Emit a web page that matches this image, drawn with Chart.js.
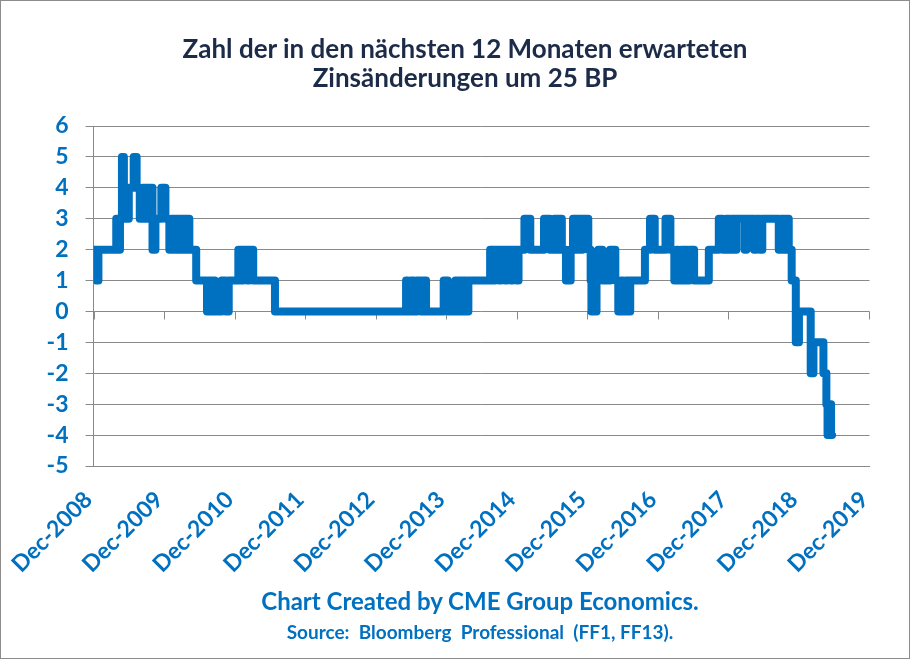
<!DOCTYPE html>
<html>
<head>
<meta charset="utf-8">
<script src="https://cdn.jsdelivr.net/npm/chart.js@4.4.0/dist/chart.umd.min.js"></script>
<style>
  body { margin: 0; background: #fff; }
  #frame {
    position: relative;
    width: 908px;
    height: 657px;
    border: 1px solid #8c8c8c;
    background: #fff;
    font-family: "Lato", sans-serif;
  }
  #frame canvas { position: absolute; left: 0; top: 0; }
  .txt {
    position: absolute;
    left: 0;
    text-align: center;
    font-weight: 700;
    white-space: pre;
  }
  #title {
    top: 33px;
    width: 928px;
    font-size: 26px;
    line-height: 29px;
    color: #1c2b48;
  }
  .note { width: 958px; color: #0070c0; }
  #note1 { top: 585px; font-size: 24px; }
  #note2 { top: 619px; font-size: 19px; }
</style>
</head>
<body>
<div id="frame">
  <canvas id="myChart" width="908" height="657"></canvas>
  <div class="txt" id="title">Zahl der in den nächsten 12 Monaten erwarteten
Zinsänderungen um 25 BP</div>
  <div class="txt note" id="note1">Chart Created by CME Group Economics.</div>
  <div class="txt note" id="note2">Source:  Bloomberg  Professional  (FF1, FF13).</div>
</div>
<script>
// dates where the expected number of 25bp moves changed, and the new level
const changeDates = [
  "2008-12-01", "2008-12-16", "2008-12-26", "2009-03-27", "2009-04-06",
  "2009-04-16", "2009-04-26", "2009-05-06", "2009-05-11", "2009-05-21",
  "2009-06-01", "2009-06-26", "2009-07-11", "2009-07-27", "2009-08-12",
  "2009-08-27", "2009-09-07", "2009-10-02", "2009-10-17", "2009-11-17",
  "2009-12-08", "2009-12-28", "2010-01-08", "2010-01-23", "2010-02-03",
  "2010-02-18", "2010-02-28", "2010-03-15", "2010-03-25", "2010-04-10",
  "2010-05-15", "2010-07-10", "2010-07-20", "2010-07-30", "2010-08-10",
  "2010-08-20", "2010-09-25", "2010-10-15", "2010-11-01", "2010-12-20",
  "2011-01-06", "2011-01-15", "2011-02-06", "2011-02-15", "2011-03-06",
  "2011-06-27", "2013-05-06", "2013-05-15", "2013-06-01", "2013-06-16",
  "2013-07-01", "2013-07-21", "2013-08-01", "2013-08-18", "2013-11-18",
  "2013-12-09", "2014-01-18", "2014-01-28", "2014-02-09", "2014-02-24",
  "2014-03-03", "2014-03-12", "2014-03-24", "2014-07-15", "2014-08-01",
  "2014-08-10", "2014-09-01", "2014-09-10", "2014-10-01", "2014-10-10",
  "2014-11-01", "2014-11-10", "2014-12-01", "2014-12-10", "2015-01-10",
  "2015-02-10", "2015-04-20", "2015-05-20", "2015-06-12", "2015-06-27",
  "2015-07-06", "2015-07-21", "2015-08-12", "2015-09-06", "2015-09-18",
  "2015-10-03", "2015-10-12", "2015-10-27", "2015-11-06", "2015-12-06",
  "2015-12-18", "2015-12-22", "2016-01-18", "2016-01-27", "2016-02-18",
  "2016-03-27", "2016-04-24", "2016-05-09", "2016-05-24", "2016-06-03",
  "2016-06-18", "2016-07-01", "2016-07-10", "2016-09-25", "2016-10-21",
  "2016-11-15", "2017-01-10", "2017-02-05", "2017-02-25", "2017-03-06",
  "2017-03-15", "2017-04-01", "2017-04-12", "2017-04-21", "2017-05-01",
  "2017-05-12", "2017-06-06", "2017-08-21", "2017-10-12", "2017-11-03",
  "2017-11-21", "2017-12-06", "2017-12-18", "2018-01-03", "2018-01-12",
  "2018-02-24", "2018-03-03", "2018-04-12", "2018-04-24", "2018-05-12",
  "2018-05-24", "2018-08-18", "2018-09-01", "2018-09-15", "2018-09-24",
  "2018-10-09", "2018-10-24", "2018-11-15", "2018-12-01", "2019-02-01",
  "2019-02-15", "2019-04-06", "2019-04-21", "2019-04-27", "2019-05-06",
  "2019-05-15", "2019-05-20",
];
const changeValues = [
  2, 1, 2, 3, 2,
  3, 5, 3, 4, 3,
  4, 5, 4, 3, 4,
  3, 4, 2, 3, 4,
  3, 2, 3, 2, 3,
  2, 3, 2, 3, 2,
  1, 0, 1, 0, 1,
  0, 1, 0, 1, 2,
  1, 2, 1, 2, 1,
  0, 1, 0, 1, 0,
  1, 0, 1, 0, 1,
  0, 1, 0, 1, 0,
  1, 0, 1, 2, 1,
  2, 1, 2, 1, 2,
  1, 2, 1, 2, 3,
  2, 3, 2, 3, 2,
  3, 2, 1, 2, 3,
  2, 3, 2, 3, 2,
  1, 0, 1, 2, 1,
  2, 1, 0, 1, 0,
  1, 0, 1, 2, 3,
  2, 3, 2, 1, 2,
  1, 2, 1, 2, 1,
  2, 1, 2, 3, 2,
  3, 2, 3, 2, 3,
  2, 3, 2, 3, 2,
  3, 2, 3, 2, 3,
  2, 1, -1, 0, -2,
  -1, -2, -3, -4, -3,
  -4, -4,
];
const xTickLabels = [
  "Dec-2008", "Dec-2009", "Dec-2010", "Dec-2011", "Dec-2012", "Dec-2013",
  "Dec-2014", "Dec-2015", "Dec-2016", "Dec-2017", "Dec-2018", "Dec-2019",
];
const yTicks = [6, 5, 4, 3, 2, 1, 0, -1, -2, -3, -4, -5];

// months since Dec 2008
function monthIndex(s) {
  const [y, m, d] = s.split("-").map(Number);
  return (y - 2008) * 12 + (m - 12) + (d - 1) / 30;
}

const points = changeDates.map((d, i) => ({ x: monthIndex(d), y: changeValues[i] }));

const blue = "#0070c0";
const gridGray = "#898989";

// Excel puts the horizontal axis at 0, tick marks hang below that line
const zeroAxisTicks = {
  id: "zeroAxisTicks",
  beforeDatasetsDraw(chart) {
    const xs = chart.scales.x;
    const ys = chart.scales.y;
    const y0 = ys.getPixelForValue(0);
    const ctx = chart.ctx;
    ctx.save();
    ctx.strokeStyle = gridGray;
    ctx.lineWidth = 1;
    ctx.beginPath();
    xs.ticks.forEach((t) => {
      const px = Math.round(xs.getPixelForValue(t.value)) + 0.5;
      ctx.moveTo(px, y0);
      ctx.lineTo(px, y0 + 8);
    });
    ctx.stroke();
    ctx.restore();
  },
};

new Chart(document.getElementById("myChart"), {
  type: "line",
  data: {
    datasets: [
      {
        label: "Zinsänderungen",
        data: points,
        borderColor: blue,
        borderWidth: 8,
        stepped: true,
        pointRadius: 0,
        borderJoinStyle: "round",
        borderCapStyle: "round",
        fill: false,
      },
    ],
  },
  options: {
    responsive: false,
    animation: false,
    layout: { padding: { left: 0, right: 35, top: 125, bottom: 82 } },
    plugins: {
      legend: { display: false },
      tooltip: { enabled: false },
    },
    scales: {
      x: {
        type: "linear",
        min: 0,
        max: 132,
        afterFit: (s) => { s.height = 110; },
        afterBuildTicks: (s) => {
          s.ticks = xTickLabels.map((_, i) => ({ value: i * 12 }));
        },
        ticks: {
          autoSkip: false,
          minRotation: 45,
          maxRotation: 45,
          padding: 20,
          labelOffset: -5,
          color: blue,
          font: { family: "Lato", size: 23, weight: "700" },
          callback: (v, i) => xTickLabels[i],
        },
        grid: { drawOnChartArea: false, drawTicks: false },
        border: { color: gridGray, width: 1 },
      },
      y: {
        min: -5,
        max: 6,
        afterFit: (s) => { s.width = 87; },
        afterBuildTicks: (s) => {
          s.ticks = yTicks.map((v) => ({ value: v }));
        },
        ticks: {
          padding: 17,
          color: blue,
          font: { family: "Lato", size: 23, weight: "700" },
        },
        grid: { color: gridGray, lineWidth: 1, tickLength: 8 },
        border: { color: gridGray, width: 1 },
      },
    },
  },
  plugins: [zeroAxisTicks],
});
</script>
</body>
</html>
